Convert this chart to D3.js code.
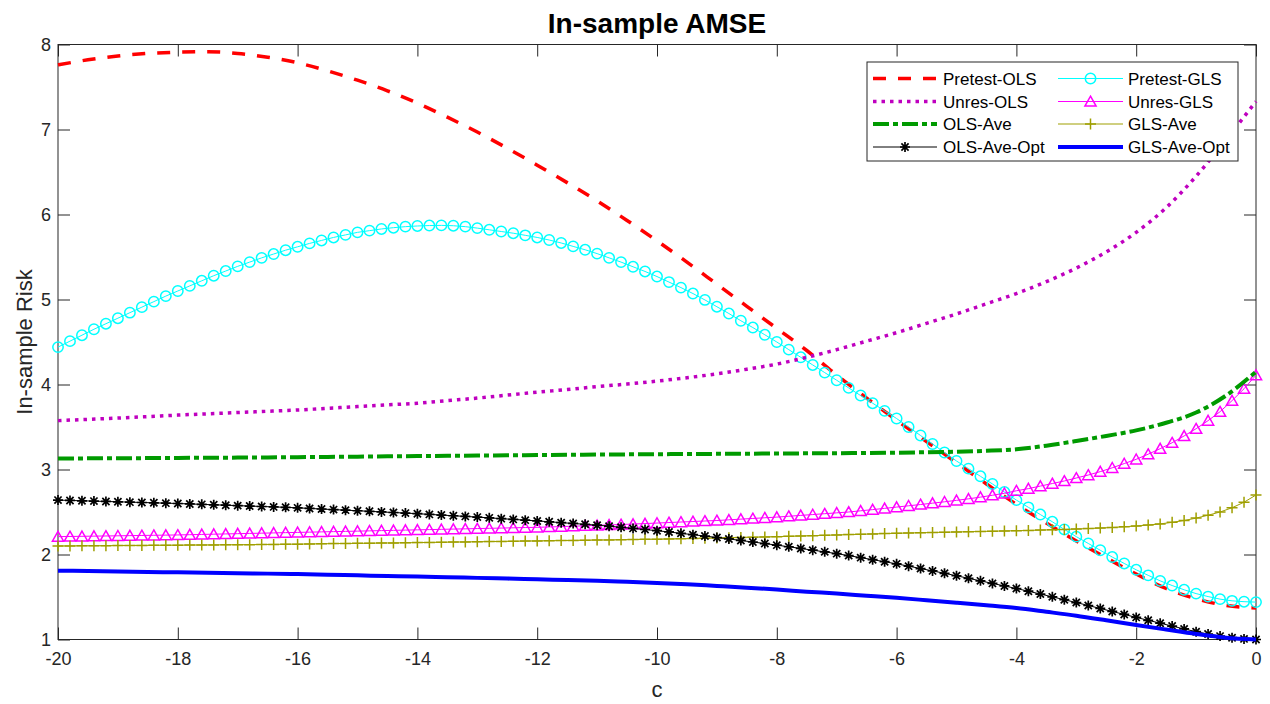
<!DOCTYPE html>
<html>
<head>
<meta charset="utf-8">
<script src="https://cdn.jsdelivr.net/npm/d3@7/dist/d3.min.js"></script>
<style>
  html, body { margin: 0; padding: 0; background: #fff; }
  svg { display: block; font-family: "Liberation Sans", Arial, Helvetica, sans-serif; }
</style>
</head>
<body>
<svg id="chart" width="1270" height="704"></svg>
<script>
// ---- data -------------------------------------------------------------
// fine grid (step 0.2) used by the marker series, coarse grid (step 0.5) for plain lines
const cFine = d3.range(101).map(i => +(-20 + i * 0.2).toFixed(1));
const cCoarse = d3.range(41).map(i => -20 + i * 0.5);

const xTicks = [-20, -18, -16, -14, -12, -10, -8, -6, -4, -2, 0];
const xTickLabels = ["-20", "-18", "-16", "-14", "-12", "-10", "-8", "-6", "-4", "-2", "0"];
const yTicks = [1, 2, 3, 4, 5, 6, 7, 8];
const yTickLabels = ["1", "2", "3", "4", "5", "6", "7", "8"];

const pretestOLS = [7.76, 7.82, 7.865, 7.895, 7.91, 7.915, 7.895, 7.85, 7.785, 7.69, 7.58, 7.455, 7.31, 7.145,
  6.97, 6.78, 6.58, 6.375, 6.16, 5.93, 5.69, 5.44, 5.18, 4.92, 4.66, 4.40, 4.11, 3.84, 3.58, 3.33, 3.08,
  2.83, 2.59, 2.37, 2.16, 1.96, 1.77, 1.60, 1.48, 1.40, 1.37];

const unresOLS = [3.575, 3.59, 3.605, 3.622, 3.64, 3.655, 3.67, 3.685, 3.70, 3.72, 3.74, 3.76, 3.78, 3.81,
  3.84, 3.875, 3.91, 3.94, 3.975, 4.005, 4.04, 4.08, 4.125, 4.18, 4.24, 4.32, 4.41, 4.51, 4.61, 4.72, 4.83,
  4.95, 5.07, 5.21, 5.37, 5.56, 5.79, 6.08, 6.45, 6.88, 7.33];

const olsAve = [3.13, 3.131, 3.133, 3.134, 3.136, 3.138, 3.14, 3.142, 3.145, 3.148, 3.151, 3.155, 3.158, 3.161,
  3.164, 3.167, 3.17, 3.173, 3.176, 3.178, 3.18, 3.182, 3.184, 3.186, 3.188, 3.19, 3.192, 3.195, 3.198, 3.203,
  3.209, 3.22, 3.238, 3.28, 3.335, 3.395, 3.46, 3.55, 3.67, 3.87, 4.15];

const glsAveOpt = [1.81, 1.805, 1.80, 1.795, 1.79, 1.785, 1.78, 1.775, 1.77, 1.763, 1.755, 1.747, 1.74, 1.733,
  1.725, 1.717, 1.708, 1.699, 1.69, 1.678, 1.665, 1.65, 1.63, 1.61, 1.588, 1.563, 1.54, 1.515, 1.49, 1.462,
  1.433, 1.403, 1.37, 1.326, 1.28, 1.226, 1.17, 1.117, 1.065, 1.02, 1.00];

const pretestGLS = [4.44, 4.51, 4.58, 4.65, 4.715, 4.78,
  4.845, 4.91, 4.975, 5.04, 5.10,
  5.16, 5.22, 5.28, 5.335, 5.39,
  5.44, 5.49, 5.535, 5.58, 5.62,
  5.66, 5.695, 5.73, 5.76, 5.79,
  5.81, 5.83, 5.845, 5.857, 5.865,
  5.87, 5.872, 5.868, 5.857, 5.84,
  5.82, 5.80, 5.78, 5.755, 5.73,
  5.70, 5.665, 5.625, 5.585, 5.54,
  5.49, 5.44, 5.385, 5.33, 5.27,
  5.205, 5.14, 5.07, 4.995, 4.915,
  4.835, 4.75, 4.67, 4.585, 4.50,
  4.41, 4.32, 4.23, 4.14, 4.05,
  3.96, 3.87, 3.78, 3.69, 3.60,
  3.50, 3.40, 3.30, 3.20, 3.10,
  3.01, 2.92, 2.83, 2.735, 2.64,
  2.555, 2.47, 2.385, 2.295, 2.21,
  2.13, 2.05, 1.97, 1.895, 1.82,
  1.755, 1.69, 1.635, 1.585, 1.54,
  1.505, 1.475, 1.455, 1.445, 1.44];

const unresGLS = [2.21, 2.212, 2.214, 2.216, 2.218, 2.22, 2.222, 2.224, 2.226, 2.228,
  2.23, 2.233, 2.236, 2.239, 2.242, 2.245, 2.248, 2.251, 2.254, 2.257,
  2.26, 2.263, 2.266, 2.269, 2.272, 2.275, 2.278, 2.281, 2.284, 2.287,
  2.29, 2.293, 2.296, 2.299, 2.302, 2.305, 2.308, 2.311, 2.314, 2.317,
  2.32, 2.324, 2.328, 2.333, 2.338, 2.343, 2.348, 2.353, 2.358, 2.364,
  2.37, 2.376, 2.382, 2.388, 2.394, 2.40, 2.408, 2.416, 2.424, 2.432,
  2.44, 2.45, 2.46, 2.47, 2.48, 2.49, 2.50, 2.514, 2.528, 2.543,
  2.558, 2.573, 2.588, 2.604, 2.62, 2.637, 2.655, 2.675, 2.697, 2.72,
  2.75, 2.775, 2.805, 2.835, 2.865, 2.90, 2.935, 2.975, 3.02, 3.07,
  3.12, 3.18, 3.245, 3.315, 3.395, 3.48, 3.575, 3.68, 3.81, 3.95, 4.11];

const glsAve = [2.100, 2.101, 2.102, 2.103, 2.104, 2.105, 2.106, 2.107, 2.108, 2.109,
  2.110, 2.111, 2.112, 2.113, 2.114, 2.115, 2.116, 2.118, 2.119, 2.121,
  2.122, 2.124, 2.126, 2.128, 2.130, 2.131, 2.133, 2.135, 2.136, 2.138,
  2.140, 2.142, 2.144, 2.146, 2.148, 2.150, 2.152, 2.154, 2.156, 2.158,
  2.160, 2.162, 2.164, 2.166, 2.168, 2.170, 2.172, 2.174, 2.176, 2.178,
  2.180, 2.183, 2.186, 2.189, 2.192, 2.195, 2.198, 2.201, 2.204, 2.207,
  2.210, 2.214, 2.218, 2.222, 2.226, 2.230, 2.234, 2.238, 2.242, 2.246,
  2.250, 2.253, 2.256, 2.259, 2.262, 2.265, 2.268, 2.271, 2.274, 2.277,
  2.280, 2.283, 2.287, 2.291, 2.295, 2.300, 2.305, 2.311, 2.318, 2.326,
  2.335, 2.346, 2.360, 2.378, 2.400, 2.428, 2.462, 2.500, 2.550, 2.615, 2.700];

const olsAveOpt = [2.640, 2.636, 2.632, 2.628, 2.624, 2.620, 2.616, 2.612, 2.608, 2.604,
  2.600, 2.595, 2.590, 2.585, 2.580, 2.575, 2.570, 2.565, 2.560, 2.555,
  2.549, 2.542, 2.535, 2.528, 2.522, 2.515, 2.508, 2.501, 2.494, 2.487,
  2.480, 2.472, 2.464, 2.456, 2.448, 2.440, 2.431, 2.422, 2.413, 2.404,
  2.395, 2.385, 2.375, 2.365, 2.355, 2.345, 2.333, 2.320, 2.307, 2.294,
  2.280, 2.265, 2.249, 2.233, 2.217, 2.200, 2.183, 2.165, 2.147, 2.129,
  2.110, 2.091, 2.071, 2.051, 2.031, 2.010, 1.987, 1.963, 1.939, 1.915,
  1.890, 1.863, 1.835, 1.807, 1.779, 1.750, 1.720, 1.690, 1.660, 1.630,
  1.600, 1.568, 1.535, 1.502, 1.468, 1.435, 1.400, 1.365, 1.330, 1.295,
  1.260, 1.226, 1.192, 1.158, 1.124, 1.092, 1.064, 1.040, 1.021, 1.007, 1.000];

// ---- series styling ---------------------------------------------------
const series = [
  { name: "Pretest-OLS", c: cCoarse, v: pretestOLS, color: "#ff0000", width: 3.5, dash: "13,12", marker: null, smooth: true },
  { name: "Pretest-GLS", c: cFine, v: pretestGLS, color: "#00ffff", width: 1, dash: null, marker: "circle", smooth: false },
  { name: "Unres-OLS", c: cCoarse, v: unresOLS, color: "#bf00bf", width: 3.5, dash: "3.5,5", marker: null, smooth: true },
  { name: "Unres-GLS", c: cFine, v: unresGLS, color: "#ff00ff", width: 1, dash: null, marker: "triangle", smooth: false },
  { name: "OLS-Ave", c: cCoarse, v: olsAve, color: "#009a00", width: 4, dash: "16,4,5,4", marker: null, smooth: true },
  { name: "GLS-Ave", c: cFine, v: glsAve, color: "#9f9f00", width: 1, dash: null, marker: "plus", smooth: false },
  { name: "OLS-Ave-Opt", c: cFine, v: olsAveOpt, color: "#000000", width: 1, dash: null, marker: "star", smooth: false },
  { name: "GLS-Ave-Opt", c: cCoarse, v: glsAveOpt, color: "#0000ff", width: 4, dash: null, marker: null, smooth: true }
];

// ---- layout -----------------------------------------------------------
const plot = { left: 58, right: 1256, top: 44.5, bottom: 639.5 };
const axisColor = "#262626";
const tickFont = "18px";

const svg = d3.select("#chart");
const x = d3.scaleLinear().domain([-20, 0]).range([plot.left, plot.right]);
const y = d3.scaleLinear().domain([1, 8]).range([plot.bottom, plot.top]);

// marker path generators, centred on (0,0)
function markerPath(type) {
  switch (type) {
    case "triangle": return "M0,-5.3L5.6,4.6L-5.6,4.6Z";
    case "plus": return "M-5.5,0H5.5M0,-5.5V5.5";
    case "star": return "M-5,0H5M0,-5V5M-3.6,-3.6L3.6,3.6M-3.6,3.6L3.6,-3.6";
    default: return null;
  }
}

function drawMarker(g, type, px, py, color) {
  if (type === "circle") {
    g.append("circle").attr("cx", px).attr("cy", py).attr("r", 5.2)
      .attr("fill", "none").attr("stroke", color).attr("stroke-width", 1.5);
  } else {
    g.append("path").attr("d", markerPath(type))
      .attr("transform", `translate(${px},${py})`)
      .attr("fill", "none").attr("stroke", color)
      .attr("stroke-width", type === "star" ? 1.7 : 1.5);
  }
}

// ---- axes box with inward ticks --------------------------------------
const axes = svg.append("g");

const bottomAxis = d3.axisBottom(x).tickValues(xTicks).tickSize(-12).tickSizeOuter(0)
  .tickPadding(13).tickFormat((d, i) => xTickLabels[i]);
const topAxis = d3.axisTop(x).tickValues(xTicks).tickSize(-12).tickSizeOuter(0).tickFormat("");
const leftAxis = d3.axisLeft(y).tickValues(yTicks).tickSize(-12).tickSizeOuter(0)
  .tickPadding(7).tickFormat((d, i) => yTickLabels[i]);
const rightAxis = d3.axisRight(y).tickValues(yTicks).tickSize(-12).tickSizeOuter(0).tickFormat("");

function styleAxis(g) {
  g.select(".domain").remove();
  g.selectAll(".tick line").attr("stroke", axisColor).attr("stroke-width", 1);
  g.selectAll(".tick text").attr("fill", axisColor).style("font-size", tickFont)
    .style("font-family", "'Liberation Sans', Arial, Helvetica, sans-serif");
}

axes.append("g").attr("transform", `translate(0,${plot.bottom})`).call(bottomAxis).call(styleAxis);
axes.append("g").attr("transform", `translate(0,${plot.top})`).call(topAxis).call(styleAxis);
axes.append("g").attr("transform", `translate(${plot.left},0)`).call(leftAxis).call(styleAxis);
axes.append("g").attr("transform", `translate(${plot.right},0)`).call(rightAxis).call(styleAxis);

axes.append("rect")
  .attr("x", plot.left).attr("y", plot.top)
  .attr("width", plot.right - plot.left).attr("height", plot.bottom - plot.top)
  .attr("fill", "none").attr("stroke", axisColor).attr("stroke-width", 1);

// ---- series -----------------------------------------------------------
const seriesLayer = svg.append("g");
series.forEach(s => {
  const pts = s.c.map((c, i) => [c, s.v[i]]);
  const line = d3.line()
    .x(d => x(d[0])).y(d => y(d[1]))
    .curve(s.smooth ? d3.curveMonotoneX : d3.curveLinear);
  const g = seriesLayer.append("g");
  g.append("path").attr("d", line(pts))
    .attr("fill", "none").attr("stroke", s.color).attr("stroke-width", s.width)
    .attr("stroke-dasharray", s.dash).attr("stroke-linejoin", "round");
  if (s.marker) {
    pts.forEach(d => drawMarker(g, s.marker, x(d[0]), y(d[1]), s.color));
  }
});

// ---- title and axis labels ---------------------------------------------
svg.append("text").attr("x", 657).attr("y", 33).attr("text-anchor", "middle")
  .style("font-size", "28px").style("font-weight", "bold").attr("fill", "#000")
  .text("In-sample AMSE");

svg.append("text").attr("x", 657).attr("y", 697).attr("text-anchor", "middle")
  .style("font-size", "22px").attr("fill", axisColor).text("c");

svg.append("text")
  .attr("transform", `translate(32,${(plot.top + plot.bottom) / 2}) rotate(-90)`)
  .attr("text-anchor", "middle").style("font-size", "22px").attr("fill", axisColor)
  .text("In-sample Risk");

// ---- legend -----------------------------------------------------------
const legend = svg.append("g");
legend.append("rect").attr("x", 867).attr("y", 62).attr("width", 371).attr("height", 99)
  .attr("fill", "#fff").attr("stroke", axisColor).attr("stroke-width", 1);

const colX = [{ x0: 873, x1: 937, tx: 943 }, { x0: 1058, x1: 1123, tx: 1128 }];
const rowY = [78.5, 101.5, 124, 147];

series.forEach((s, i) => {
  const col = colX[i % 2];
  const ry = rowY[Math.floor(i / 2)];
  legend.append("line").attr("x1", col.x0).attr("x2", col.x1).attr("y1", ry).attr("y2", ry)
    .attr("stroke", s.color).attr("stroke-width", s.width).attr("stroke-dasharray", s.dash);
  if (s.marker) drawMarker(legend, s.marker, (col.x0 + col.x1) / 2, ry, s.color);
  legend.append("text").attr("x", col.tx).attr("y", ry + 6)
    .style("font-size", "17px").attr("fill", "#000").text(s.name);
});
</script>
</body>
</html>
